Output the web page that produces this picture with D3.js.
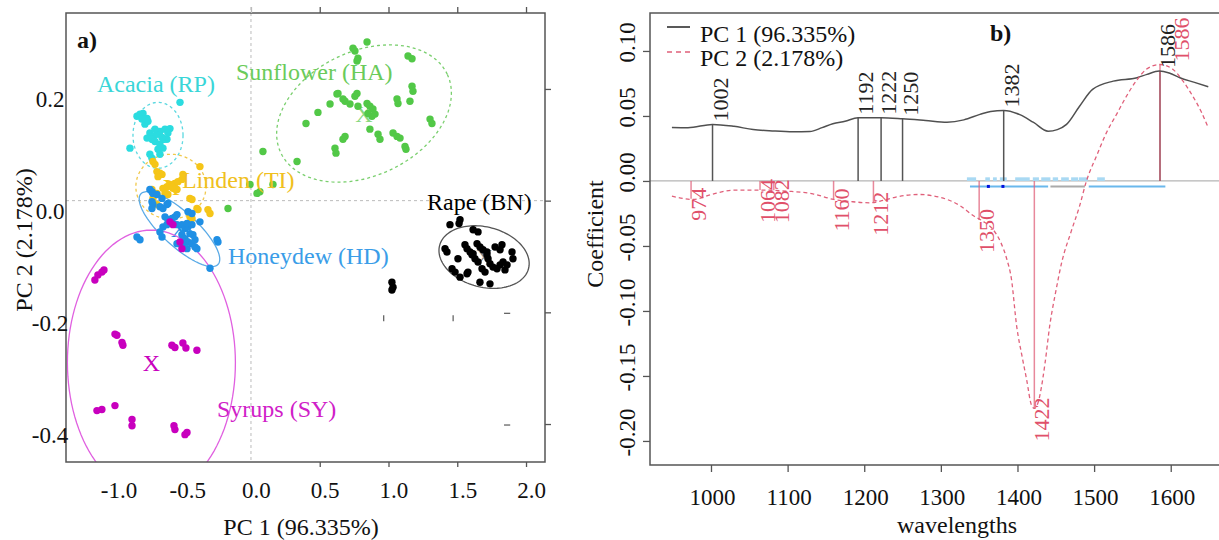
<!doctype html>
<html lang="en">
<head>
<meta charset="utf-8">
<title>PCA of honey spectra</title>
<script src="https://cdnjs.cloudflare.com/ajax/libs/d3/7.8.5/d3.min.js"></script>
<style>
	body { margin: 0; background: #fff; }
	svg { display: block; font-family: "Liberation Serif", "Times New Roman", serif; }
</style>
</head>
<body>
<div id="view"></div>
<script>
/* ---------- panel a) : PC scores ---------- */
var groupNames = ['Acacia (RP)', 'Sunflower (HA)', 'Linden (TI)', 'Honeydew (HD)', 'Rape (BN)', 'Syrups (SY)'];

var acacia = [[-0.516,0.176],[-0.829,0.151],[-0.807,0.155],[-0.785,0.156],[-0.756,0.147],[-0.771,0.137],[-0.749,0.142],
	[-0.735,0.121],[-0.713,0.115],[-0.684,0.119],[-0.662,0.124],[-0.625,0.128],[-0.589,0.129],[-0.756,0.112],[-0.720,0.110],
	[-0.698,0.106],[-0.662,0.101],[-0.640,0.094],[-0.676,0.092],[-0.662,0.083],[-0.880,0.094],[-0.735,0.083],[-0.720,0.076],
	[-0.611,0.110],[-0.793,0.146],[-0.698,0.128],[-0.647,0.113],[-0.604,0.121]];
var sunflower = [[0.844,0.284],[0.742,0.273],[0.756,0.268],[0.778,0.255],[0.771,0.250],[1.142,0.259],[1.171,0.254],
	[1.171,0.205],[1.178,0.196],[1.156,0.178],[1.062,0.182],[1.069,0.174],[1.302,0.146],[1.316,0.138],[0.633,0.192],
	[0.625,0.191],[0.669,0.182],[0.684,0.178],[0.771,0.192],[0.756,0.187],[0.720,0.173],[0.778,0.169],[0.575,0.173],
	[0.487,0.158],[0.400,0.138],[0.844,0.174],[0.865,0.169],[0.887,0.164],[0.902,0.155],[0.880,0.151],[0.851,0.156],
	[0.865,0.128],[0.924,0.119],[0.938,0.110],[0.684,0.115],[0.669,0.110],[0.611,0.094],[0.618,0.085],[1.033,0.121],
	[1.062,0.115],[1.084,0.112],[1.120,0.097],[1.127,0.092],[0.335,0.070],[0.087,0.088],[0.044,0.013],[0.065,0.016],
	[-0.007,0.029],[0.160,0.029],[-0.167,-0.014]];
var linden = [[-0.713,0.070],[-0.698,0.065],[-0.684,0.052],[-0.662,0.049],[-0.647,0.047],[-0.676,0.043],[-0.640,0.022],
	[-0.611,0.025],[-0.589,0.029],[-0.567,0.022],[-0.538,0.020],[-0.553,0.031],[-0.531,0.034],[-0.502,0.038],[-0.495,0.047],
	[-0.625,0.013],[-0.604,0.011],[-0.444,0.004],[-0.429,0.002],[-0.713,0.004],[-0.684,0.013],[-0.393,-0.014],[-0.385,-0.016],
	[-0.313,-0.016],[-0.298,-0.023],[-0.444,-0.029],[-0.429,-0.032],[-0.371,0.061],[-0.575,0.025],[-0.720,0.020],[-0.684,-0.007]];
var honeydew = [[-0.735,0.020],[-0.720,0.016],[-0.713,0.013],[-0.720,-0.002],[-0.713,-0.007],[-0.720,-0.014],[-0.662,-0.011],
	[-0.640,-0.014],[-0.611,-0.007],[-0.604,-0.005],[-0.684,0.011],[-0.647,0.004],[-0.625,-0.029],[-0.604,-0.034],[-0.575,-0.032],
	[-0.553,-0.029],[-0.538,-0.025],[-0.640,-0.047],[-0.611,-0.043],[-0.567,-0.041],[-0.538,-0.043],[-0.502,-0.043],[-0.480,-0.050],
	[-0.458,-0.047],[-0.429,-0.043],[-0.465,-0.041],[-0.458,-0.020],[-0.429,-0.023],[-0.662,-0.056],[-0.647,-0.065],[-0.829,-0.065],
	[-0.807,-0.070],[-0.502,-0.061],[-0.480,-0.068],[-0.458,-0.074],[-0.429,-0.077],[-0.407,-0.070],[-0.422,-0.061],[-0.444,-0.059],
	[-0.495,-0.079],[-0.465,-0.086],[-0.538,-0.077],[-0.393,-0.086],[-0.407,-0.083],[-0.247,-0.070],[-0.240,-0.074],[-0.298,-0.121],
	[-0.371,-0.038]];
var rape = [[1.447,-0.043],[1.513,-0.041],[1.520,-0.034],[1.615,-0.052],[1.651,-0.056],[1.411,-0.086],[1.425,-0.092],
	[1.505,-0.104],[1.556,-0.079],[1.571,-0.086],[1.593,-0.092],[1.615,-0.095],[1.644,-0.077],[1.665,-0.083],[1.687,-0.088],
	[1.716,-0.092],[1.607,-0.097],[1.629,-0.104],[1.651,-0.110],[1.775,-0.083],[1.825,-0.079],[1.811,-0.088],[1.898,-0.092],
	[1.905,-0.104],[1.738,-0.113],[1.760,-0.119],[1.789,-0.122],[1.811,-0.115],[1.833,-0.110],[1.862,-0.115],[1.847,-0.124],
	[1.716,-0.097],[1.724,-0.104],[1.462,-0.122],[1.484,-0.128],[1.520,-0.137],[1.571,-0.131],[1.578,-0.128],[1.665,-0.146],
	[1.738,-0.149],[1.680,-0.122],[1.702,-0.128],[1.025,-0.146],[1.033,-0.155],[1.025,-0.160]];
var syrups = [[-1.135,-0.142],[-1.113,-0.133],[-1.084,-0.128],[-1.069,-0.124],[-0.989,-0.239],[-0.975,-0.241],[-0.938,-0.254],
	[-0.931,-0.259],[-0.575,-0.259],[-0.553,-0.263],[-0.495,-0.255],[-0.473,-0.264],[-0.393,-0.268],[-1.120,-0.376],[-1.084,-0.374],
	[-0.989,-0.367],[-0.865,-0.392],[-0.865,-0.403],[-0.560,-0.403],[-0.553,-0.410],[-0.480,-0.419],[-0.465,-0.415],
	[-0.589,-0.038],[-0.567,-0.043],[-0.516,-0.074],[-0.502,-0.086]];
var groupScores = [acacia, sunflower, linden, honeydew, rape, syrups];

/* confidence ellipses: centre and two conjugate half axes, in PC units */
var ellipseCentre = [[-0.676,0.117],[0.822,0.156],[-0.582,0.025],[-0.520,-0.051],[1.695,-0.101],[-0.724,-0.290]];
var ellipseAxisA = [[0.182,0],[0.606,0.070],[0.255,0],[0.281,-0.063],[0.323,-0.021],[0.610,-0.012]];
var ellipseAxisB = [[0,0.059],[0.191,-0.101],[0,0.058],[-0.083,-0.023],[-0.057,-0.052],[0.030,0.237]];

var xTicksA = [-1.0, -0.5, 0.0, 0.5, 1.0, 1.5, 2.0];
var yTicksA = [-0.4, -0.2, 0.0, 0.2];

/* ---------- panel b) : loadings ---------- */
var wl1 = [949,970,1002,1030,1055,1080,1107,1129,1145,1159,1175,1192,1222,1250,1280,1308,1330,1351,1365,1382,1403,1421,1440,
	1452,1464,1481,1498,1525,1556,1569,1585,1598,1612,1630,1649];
var pc1 = [0.0412,0.0410,0.0435,0.0420,0.0396,0.0385,0.0378,0.0380,0.0410,0.0440,0.0460,0.0486,0.0486,0.0478,0.0465,0.0452,
	0.0470,0.0512,0.0535,0.0542,0.0510,0.0450,0.0383,0.0395,0.0435,0.0575,0.0704,0.0768,0.0794,0.0820,0.0845,0.0830,0.0794,
	0.0760,0.0725];
var wl2 = [949,977,1000,1029,1064,1082,1099,1133,1160,1185,1208,1221,1238,1255,1273,1290,1308,1325,1343,1355,1368,1378,1386,
	1392,1399,1406,1412,1418,1422,1426,1429,1436,1442,1450,1458,1470,1481,1490,1503,1516,1530,1542,1555,1568,1586,1603,1617,
	1629,1640,1649];
var pc2 = [-0.0117,-0.0142,-0.0105,-0.0071,-0.0070,-0.0072,-0.0078,-0.0099,-0.0142,-0.0160,-0.0168,-0.0155,-0.0129,-0.0110,
	-0.0104,-0.0115,-0.0142,-0.0190,-0.0270,-0.0310,-0.0373,-0.0470,-0.0600,-0.0750,-0.1120,-0.1350,-0.1530,-0.1720,-0.1750,
	-0.1720,-0.1655,-0.1400,-0.1117,-0.0850,-0.0620,-0.0390,-0.0194,0.0000,0.0190,0.0370,0.0520,0.0650,0.0770,0.0858,0.0896,
	0.0858,0.0760,0.0650,0.0530,0.0410];

var pc1PeakW = [1002, 1192, 1222, 1250, 1382, 1586];
var pc1PeakV = [0.0435, 0.0486, 0.0486, 0.0478, 0.0542, 0.0845];
var pc2PeakW = [974, 1064, 1082, 1160, 1212, 1350, 1422, 1586];
var pc2PeakV = [-0.0137, -0.0070, -0.0072, -0.0142, -0.0168, -0.0300, -0.1750, 0.0896];

/* significant regions drawn along the zero line */
var sigBands = [[1334,1346],[1358,1364],[1368,1373],[1377,1386],[1397,1416],[1420,1428],[1431,1443],[1446,1453],
	[1457,1467],[1470,1479],[1480,1492],[1504,1514]];
var sigRuns = [[1338,1440],[1443,1488],[1493,1593]];
var sigRunKind = ['blue', 'grey', 'blue'];
var sigDots = [1362, 1381];

var xTicksB = [1000, 1100, 1200, 1300, 1400, 1500, 1600];
var yTicksB = [-0.20, -0.15, -0.10, -0.05, 0.00, 0.05, 0.10];

/* ---------- view ---------- */
var W = 1219, H = 540;
var pointCol = ['#2bdce0', '#52c847', '#f5c518', '#1f8fe4', '#000000', '#c800be'];
var labelCol = ['#3ad6d8', '#6acb5a', '#f0c020', '#3a9de8', '#000000', '#d020c8'];
var ringCol = ['#5cd8e0', '#7acf6e', '#f0c84a', '#5aaae6', '#555555', '#e060e0'];
var ringDash = ['3,3', '3,3', '3,3', null, null, null];
var markCol = ['#2bdce0', '#8ad880', '#f5c518', '#1f8fe4', '#888888', '#c800be'];
var labelAt = [[-1.12,0.194],[-0.109,0.216],[-0.502,0.023],[-0.167,-0.113],[1.28,-0.016],[-0.247,-0.388]];

var svg = d3.select('#view').append('svg')
	.attr('width', W).attr('height', H);

/* panel a */
var A = { left: 66, right: 545, top: 13, bottom: 462 };
var xA = d3.scaleLinear().domain([-1.345, 2.138]).range([A.left, A.right]);
var yA = d3.scaleLinear().domain([-0.468, 0.336]).range([A.bottom, A.top]);

svg.append('clipPath').attr('id', 'clipA')
	.append('rect').attr('x', A.left).attr('y', A.top)
	.attr('width', A.right - A.left).attr('height', A.bottom - A.top);

var gA = svg.append('g');

// zero reference lines
gA.append('line')
	.attr('x1', xA(0)).attr('x2', xA(0)).attr('y1', A.top - 6).attr('y2', A.bottom)
	.style('stroke', '#bbb').style('stroke-dasharray', '3,3');
gA.append('line')
	.attr('x1', A.left).attr('x2', A.right).attr('y1', yA(0)).attr('y2', yA(0))
	.style('stroke', '#bbb').style('stroke-dasharray', '3,3');

var inner = gA.append('g').attr('clip-path', 'url(#clipA)');

function ellipsePath(i){
	var c = ellipseCentre[i], a = ellipseAxisA[i], b = ellipseAxisB[i];
	var pts = d3.range(0, 361, 3).map(function(deg){
		var t = deg * Math.PI / 180;
		return [xA(c[0] + Math.cos(t) * a[0] + Math.sin(t) * b[0]),
				yA(c[1] + Math.cos(t) * a[1] + Math.sin(t) * b[1])];
	});
	return d3.line()(pts);
}

groupNames.forEach(function(name, i){
	inner.append('path')
		.attr('d', ellipsePath(i))
		.style('fill', 'none')
		.style('stroke', ringCol[i])
		.style('stroke-width', 1.3)
		.style('stroke-dasharray', ringDash[i]);
	inner.append('text')
		.attr('x', xA(ellipseCentre[i][0]))
		.attr('y', yA(ellipseCentre[i][1]) + 8)
		.attr('text-anchor', 'middle')
		.style('font-size', '24px')
		.style('fill', markCol[i])
		.text('X');
});

groupNames.forEach(function(name, i){
	inner.selectAll('circle.g' + i)
		.data(groupScores[i])
		.enter().append('circle')
		.attr('class', 'g' + i)
		.attr('cx', function(d){ return xA(d[0]); })
		.attr('cy', function(d){ return yA(d[1]); })
		.attr('r', 3.7)
		.style('fill', pointCol[i]);
});

groupNames.forEach(function(name, i){
	gA.append('text')
		.attr('x', xA(labelAt[i][0]))
		.attr('y', yA(labelAt[i][1]))
		.style('font-size', '24px')
		.style('fill', labelCol[i])
		.text(name);
});

// stray tick marks inside the plot
[0.965, 1.47].forEach(function(v){
	gA.append('line').attr('x1', xA(v)).attr('x2', xA(v))
		.attr('y1', yA(-0.2) + 3).attr('y2', yA(-0.2) + 9)
		.style('stroke', '#666').style('stroke-width', 1.3);
});
[-0.2, -0.4].forEach(function(v){
	gA.append('line').attr('x1', xA(1.84)).attr('x2', xA(1.885))
		.attr('y1', yA(v) + 1).attr('y2', yA(v) + 1)
		.style('stroke', '#666').style('stroke-width', 1.3);
});

// box and axes
gA.append('rect')
	.attr('x', A.left).attr('y', A.top)
	.attr('width', A.right - A.left).attr('height', A.bottom - A.top)
	.style('fill', 'none').style('stroke', '#555').style('stroke-width', 1.5);

var fmt1 = function(v){ return v.toFixed(1); };

var axB = gA.append('g').attr('transform', 'translate(0,' + A.bottom + ')')
	.call(d3.axisBottom(xA).tickValues(xTicksA).tickSize(5).tickFormat(fmt1));
var axT = gA.append('g').attr('transform', 'translate(0,' + A.top + ')')
	.call(d3.axisTop(xA).tickValues([0, 0.5, 1, 1.5, 2]).tickSize(6).tickFormat(''));
var axR = gA.append('g').attr('transform', 'translate(' + A.right + ',0)')
	.call(d3.axisRight(yA).tickValues(yTicksA).tickSize(6).tickFormat(''));
var axL = gA.append('g').attr('transform', 'translate(' + A.left + ',0)')
	.call(d3.axisLeft(yA).tickValues(yTicksA).tickSize(0).tickFormat(fmt1));

[axB, axT, axR, axL].forEach(function(ax){
	ax.select('.domain').remove();
	ax.selectAll('line').style('stroke', '#555').style('stroke-width', 1.3);
	ax.selectAll('text').style('font-family', '"Liberation Serif", serif')
		.style('font-size', '23px').style('fill', '#111');
});
axB.selectAll('.tick line').style('opacity', function(d){ return d < 0.5 ? 0 : 1; });
axB.selectAll('text').attr('y', 36).attr('dy', 0).attr('x', 5);
axT.selectAll('.tick line').style('stroke', function(d){ return d === 0 ? '#bbb' : '#555'; });
axL.selectAll('text').attr('x', -16).attr('dy', 0).attr('y', 18).attr('text-anchor', 'middle');

gA.append('text')
	.attr('x', 301).attr('y', 535)
	.attr('text-anchor', 'middle')
	.style('font-size', '24px').style('fill', '#111')
	.text('PC 1 (96.335%)');
gA.append('text')
	.attr('transform', 'translate(32,240) rotate(-90)')
	.attr('text-anchor', 'middle')
	.style('font-size', '24px').style('fill', '#111')
	.text('PC 2 (2.178%)');
gA.append('text')
	.attr('x', 77).attr('y', 48)
	.style('font-size', '24px').style('font-weight', 'bold').style('fill', '#111')
	.text('a)');

/* panel b */
var B = { left: 650, right: 1219, top: 13, bottom: 465 };
var xB = d3.scaleLinear().domain([920.4, 1663]).range([B.left, B.right]);
var yB = d3.scaleLinear().domain([-0.2185, 0.1292]).range([B.bottom, B.top]);

var gB = svg.append('g');

gB.append('line')
	.attr('x1', B.left).attr('x2', B.right).attr('y1', yB(0)).attr('y2', yB(0))
	.style('stroke', '#b5b5b5').style('stroke-width', 1.3);

// significance marks
gB.selectAll('rect.band').data(sigBands).enter().append('rect')
	.attr('class', 'band')
	.attr('x', function(d){ return xB(d[0]); })
	.attr('width', function(d){ return xB(d[1]) - xB(d[0]); })
	.attr('y', yB(0.0028)).attr('height', yB(0) - yB(0.0028))
	.style('fill', '#a9d9f3');
gB.selectAll('line.run').data(sigRuns).enter().append('line')
	.attr('class', 'run')
	.attr('x1', function(d){ return xB(d[0]); })
	.attr('x2', function(d){ return xB(d[1]); })
	.attr('y1', yB(-0.0042)).attr('y2', yB(-0.0042))
	.style('stroke', function(d, i){ return sigRunKind[i] === 'blue' ? '#6ab8ec' : '#aaaaaa'; })
	.style('stroke-width', 2);
gB.selectAll('rect.dot').data(sigDots).enter().append('rect')
	.attr('class', 'dot')
	.attr('x', function(d){ return xB(d) - 1.5; })
	.attr('y', yB(-0.0042) - 1.5)
	.attr('width', 3).attr('height', 3)
	.style('fill', '#0010dd');

// stems
gB.selectAll('line.s1').data(pc1PeakW).enter().append('line')
	.attr('class', 's1')
	.attr('x1', function(d){ return xB(d); }).attr('x2', function(d){ return xB(d); })
	.attr('y1', yB(0)).attr('y2', function(d, i){ return yB(pc1PeakV[i]); })
	.style('stroke', '#555').style('stroke-width', 1.5);
gB.selectAll('line.s2').data(pc2PeakW).enter().append('line')
	.attr('class', 's2')
	.attr('x1', function(d){ return xB(d); }).attr('x2', function(d){ return xB(d); })
	.attr('y1', yB(0)).attr('y2', function(d, i){ return yB(pc2PeakV[i]); })
	.style('stroke', '#e0607a').style('stroke-opacity', 0.75).style('stroke-width', 1.5);

// curves
var line1 = d3.line().x(function(d, i){ return xB(wl1[i]); }).y(function(d){ return yB(d); }).curve(d3.curveMonotoneX);
var line2 = d3.line().x(function(d, i){ return xB(wl2[i]); }).y(function(d){ return yB(d); }).curve(d3.curveMonotoneX);
gB.append('path').attr('d', line1(pc1))
	.style('fill', 'none').style('stroke', '#505050').style('stroke-width', 1.5);
gB.append('path').attr('d', line2(pc2))
	.style('fill', 'none').style('stroke', '#e0607a').style('stroke-width', 1.3)
	.style('stroke-dasharray', '4,3');

// stem labels
gB.selectAll('text.l1').data(pc1PeakW).enter().append('text')
	.attr('class', 'l1')
	.attr('transform', function(d, i){ return 'translate(' + (xB(d) + 15) + ',' + (yB(pc1PeakV[i]) - 3) + ') rotate(-90)'; })
	.style('font-size', '22px').style('fill', '#222')
	.text(function(d){ return d; });
gB.selectAll('text.l2').data(pc2PeakW).enter().append('text')
	.attr('class', 'l2')
	.attr('transform', function(d, i){
		var v = pc2PeakV[i];
		return v < 0
			? 'translate(' + (xB(d) + 15) + ',' + (yB(v) - 11) + ') rotate(-90)'
			: 'translate(' + (xB(d) + 29) + ',' + (yB(v) - 3) + ') rotate(-90)';
	})
	.attr('text-anchor', function(d, i){ return pc2PeakV[i] < 0 ? 'end' : 'start'; })
	.style('font-size', '22px').style('fill', '#e0506a')
	.text(function(d){ return d; });

// frame
gB.append('path')
	.attr('d', 'M' + B.right + ',' + B.top + 'H' + B.left + 'V' + B.bottom + 'H' + B.right)
	.style('fill', 'none').style('stroke', '#555').style('stroke-width', 1.5);

var fmt2 = function(v){ return v.toFixed(2); };
var bxB = gB.append('g').attr('transform', 'translate(0,' + B.bottom + ')')
	.call(d3.axisBottom(xB).tickValues(xTicksB).tickSize(7).tickFormat(function(v){ return String(v); }));
var bxL = gB.append('g').attr('transform', 'translate(' + B.left + ',0)')
	.call(d3.axisLeft(yB).tickValues(yTicksB).tickSize(7).tickFormat(fmt2));
[bxB, bxL].forEach(function(ax){
	ax.select('.domain').remove();
	ax.selectAll('line').style('stroke', '#555').style('stroke-width', 1.3);
	ax.selectAll('text').style('font-family', '"Liberation Serif", serif')
		.style('font-size', '23px').style('fill', '#111');
});
bxB.selectAll('text').attr('y', 40).attr('dy', 0).attr('x', 1);
bxL.selectAll('text')
	.attr('x', null).attr('dy', 0)
	.attr('transform', 'translate(-15,-9) rotate(-90)')
	.attr('text-anchor', 'middle');

gB.append('text')
	.attr('x', 957).attr('y', 533)
	.attr('text-anchor', 'middle')
	.style('font-size', '24px').style('fill', '#111')
	.text('wavelengths');
gB.append('text')
	.attr('transform', 'translate(603,234) rotate(-90)')
	.attr('text-anchor', 'middle')
	.style('font-size', '24px').style('fill', '#111')
	.text('Coefficient');
gB.append('text')
	.attr('x', 990).attr('y', 41)
	.style('font-size', '24px').style('font-weight', 'bold').style('fill', '#111')
	.text('b)');

// legend
var legend = gB.append('g');
legend.append('line').attr('x1', 667).attr('x2', 690).attr('y1', 27).attr('y2', 27)
	.style('stroke', '#222').style('stroke-width', 1.5);
legend.append('line').attr('x1', 667).attr('x2', 690).attr('y1', 52).attr('y2', 52)
	.style('stroke', '#e0607a').style('stroke-width', 1.3).style('stroke-dasharray', '5,4');
legend.append('text').attr('x', 700).attr('y', 42)
	.style('font-size', '24px').style('fill', '#111').text('PC 1 (96.335%)');
legend.append('text').attr('x', 700).attr('y', 66)
	.style('font-size', '24px').style('fill', '#111').text('PC 2 (2.178%)');
</script>
</body>
</html>
